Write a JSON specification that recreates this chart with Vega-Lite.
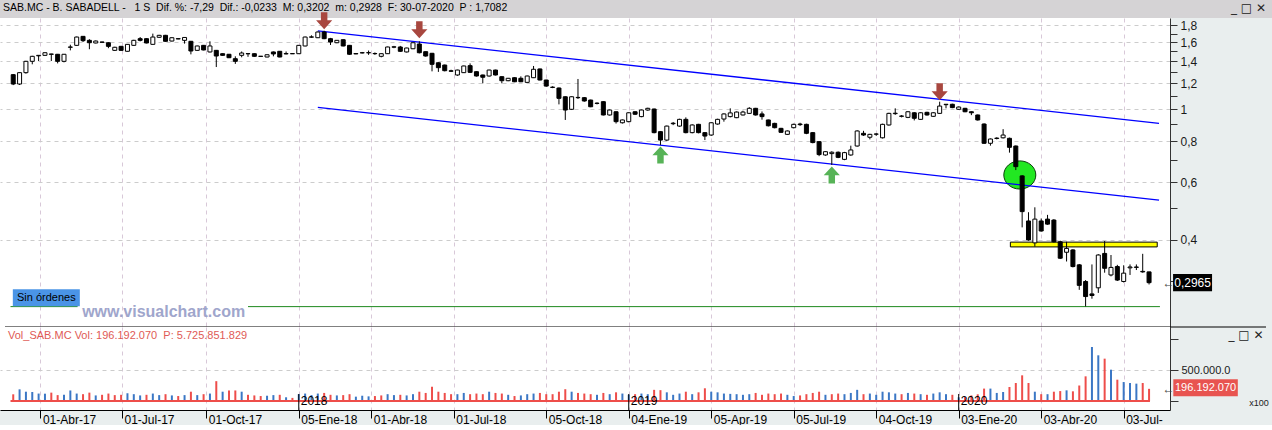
{
  "$schema": "https://vega.github.io/schema/vega-lite/v6.json",
  "background": "#e9eeee",
  "padding": 0,
  "spacing": 0,
  "bounds": "flush",
  "config": {"font": "Liberation Sans", "view": {"stroke": null}, "concat": {"spacing": 0}},
  "resolve": {"scale": {"x": "independent", "y": "independent"}},
  "datasets": {
    "bars": [
      {"d":"2017-02-24","o":1.275,"h":1.28,"l":1.185,"c":1.194,"v":108},
      {"d":"2017-03-03","o":1.194,"h":1.295,"l":1.186,"c":1.293,"v":188},
      {"d":"2017-03-10","o":1.293,"h":1.405,"l":1.284,"c":1.4,"v":150},
      {"d":"2017-03-17","o":1.4,"h":1.455,"l":1.371,"c":1.45,"v":145},
      {"d":"2017-03-24","o":1.455,"h":1.462,"l":1.403,"c":1.46,"v":120},
      {"d":"2017-03-31","o":1.46,"h":1.49,"l":1.455,"c":1.487,"v":118},
      {"d":"2017-04-07","o":1.47,"h":1.476,"l":1.403,"c":1.474,"v":135},
      {"d":"2017-04-14","o":1.471,"h":1.474,"l":1.38,"c":1.4,"v":95},
      {"d":"2017-04-21","o":1.4,"h":1.474,"l":1.39,"c":1.471,"v":100},
      {"d":"2017-04-28","o":1.545,"h":1.573,"l":1.512,"c":1.548,"v":170},
      {"d":"2017-05-05","o":1.566,"h":1.665,"l":1.56,"c":1.66,"v":120},
      {"d":"2017-05-12","o":1.668,"h":1.672,"l":1.603,"c":1.618,"v":110},
      {"d":"2017-05-19","o":1.622,"h":1.635,"l":1.524,"c":1.595,"v":135},
      {"d":"2017-05-26","o":1.592,"h":1.62,"l":1.588,"c":1.614,"v":90},
      {"d":"2017-06-02","o":1.603,"h":1.606,"l":1.597,"c":1.6,"v":100},
      {"d":"2017-06-09","o":1.595,"h":1.6,"l":1.535,"c":1.555,"v":120},
      {"d":"2017-06-16","o":1.512,"h":1.55,"l":1.505,"c":1.545,"v":95},
      {"d":"2017-06-23","o":1.555,"h":1.56,"l":1.508,"c":1.512,"v":100},
      {"d":"2017-06-30","o":1.502,"h":1.58,"l":1.5,"c":1.577,"v":125},
      {"d":"2017-07-07","o":1.566,"h":1.628,"l":1.56,"c":1.622,"v":110},
      {"d":"2017-07-14","o":1.641,"h":1.66,"l":1.61,"c":1.622,"v":90},
      {"d":"2017-07-21","o":1.641,"h":1.645,"l":1.588,"c":1.592,"v":100},
      {"d":"2017-07-28","o":1.577,"h":1.7,"l":1.575,"c":1.66,"v":120},
      {"d":"2017-08-04","o":1.657,"h":1.685,"l":1.652,"c":1.68,"v":95},
      {"d":"2017-08-11","o":1.68,"h":1.685,"l":1.607,"c":1.611,"v":110},
      {"d":"2017-08-18","o":1.614,"h":1.656,"l":1.61,"c":1.652,"v":90},
      {"d":"2017-08-25","o":1.641,"h":1.644,"l":1.635,"c":1.638,"v":80},
      {"d":"2017-09-01","o":1.622,"h":1.658,"l":1.585,"c":1.655,"v":95},
      {"d":"2017-09-08","o":1.611,"h":1.615,"l":1.47,"c":1.505,"v":150},
      {"d":"2017-09-15","o":1.512,"h":1.562,"l":1.508,"c":1.559,"v":95},
      {"d":"2017-09-22","o":1.566,"h":1.57,"l":1.512,"c":1.516,"v":110},
      {"d":"2017-09-29","o":1.495,"h":1.611,"l":1.49,"c":1.559,"v":120},
      {"d":"2017-10-06","o":1.512,"h":1.516,"l":1.345,"c":1.453,"v":320},
      {"d":"2017-10-13","o":1.477,"h":1.48,"l":1.456,"c":1.46,"v":150},
      {"d":"2017-10-20","o":1.471,"h":1.474,"l":1.432,"c":1.436,"v":170},
      {"d":"2017-10-27","o":1.426,"h":1.45,"l":1.375,"c":1.4,"v":170},
      {"d":"2017-11-03","o":1.46,"h":1.5,"l":1.44,"c":1.484,"v":150},
      {"d":"2017-11-10","o":1.476,"h":1.48,"l":1.445,"c":1.478,"v":100},
      {"d":"2017-11-17","o":1.477,"h":1.48,"l":1.445,"c":1.45,"v":90},
      {"d":"2017-11-24","o":1.451,"h":1.452,"l":1.447,"c":1.449,"v":80},
      {"d":"2017-12-01","o":1.443,"h":1.47,"l":1.44,"c":1.466,"v":85},
      {"d":"2017-12-08","o":1.495,"h":1.5,"l":1.45,"c":1.474,"v":95},
      {"d":"2017-12-15","o":1.502,"h":1.505,"l":1.44,"c":1.443,"v":100},
      {"d":"2017-12-22","o":1.475,"h":1.5,"l":1.47,"c":1.478,"v":60},
      {"d":"2017-12-29","o":1.478,"h":1.48,"l":1.474,"c":1.476,"v":50},
      {"d":"2018-01-05","o":1.477,"h":1.57,"l":1.475,"c":1.566,"v":110},
      {"d":"2018-01-12","o":1.559,"h":1.665,"l":1.555,"c":1.66,"v":120},
      {"d":"2018-01-19","o":1.658,"h":1.68,"l":1.65,"c":1.662,"v":95},
      {"d":"2018-01-26","o":1.652,"h":1.725,"l":1.648,"c":1.7195,"v":120},
      {"d":"2018-02-02","o":1.7195,"h":1.735,"l":1.635,"c":1.641,"v":130},
      {"d":"2018-02-09","o":1.641,"h":1.65,"l":1.57,"c":1.603,"v":100},
      {"d":"2018-02-16","o":1.595,"h":1.625,"l":1.59,"c":1.622,"v":90},
      {"d":"2018-02-23","o":1.629,"h":1.633,"l":1.555,"c":1.559,"v":95},
      {"d":"2018-03-02","o":1.566,"h":1.57,"l":1.466,"c":1.471,"v":110},
      {"d":"2018-03-09","o":1.478,"h":1.48,"l":1.472,"c":1.475,"v":70},
      {"d":"2018-03-16","o":1.487,"h":1.495,"l":1.48,"c":1.485,"v":85},
      {"d":"2018-03-23","o":1.486,"h":1.51,"l":1.465,"c":1.488,"v":75},
      {"d":"2018-03-30","o":1.477,"h":1.49,"l":1.465,"c":1.479,"v":80},
      {"d":"2018-04-06","o":1.45,"h":1.48,"l":1.44,"c":1.477,"v":90},
      {"d":"2018-04-13","o":1.477,"h":1.552,"l":1.474,"c":1.548,"v":110},
      {"d":"2018-04-20","o":1.546,"h":1.56,"l":1.535,"c":1.55,"v":95},
      {"d":"2018-04-27","o":1.548,"h":1.56,"l":1.495,"c":1.502,"v":100},
      {"d":"2018-05-04","o":1.495,"h":1.54,"l":1.49,"c":1.537,"v":90},
      {"d":"2018-05-11","o":1.529,"h":1.6,"l":1.525,"c":1.595,"v":110},
      {"d":"2018-05-18","o":1.581,"h":1.611,"l":1.48,"c":1.487,"v":150},
      {"d":"2018-05-25","o":1.498,"h":1.5,"l":1.447,"c":1.453,"v":130},
      {"d":"2018-06-01","o":1.481,"h":1.485,"l":1.305,"c":1.371,"v":230},
      {"d":"2018-06-08","o":1.386,"h":1.39,"l":1.3,"c":1.339,"v":150},
      {"d":"2018-06-15","o":1.364,"h":1.368,"l":1.305,"c":1.311,"v":130},
      {"d":"2018-06-22","o":1.31,"h":1.32,"l":1.3,"c":1.306,"v":110},
      {"d":"2018-06-29","o":1.272,"h":1.32,"l":1.265,"c":1.317,"v":110},
      {"d":"2018-07-06","o":1.293,"h":1.358,"l":1.29,"c":1.355,"v":130},
      {"d":"2018-07-13","o":1.358,"h":1.38,"l":1.29,"c":1.296,"v":110},
      {"d":"2018-07-20","o":1.302,"h":1.305,"l":1.258,"c":1.263,"v":120},
      {"d":"2018-07-27","o":1.272,"h":1.275,"l":1.2,"c":1.252,"v":110},
      {"d":"2018-08-03","o":1.263,"h":1.32,"l":1.258,"c":1.317,"v":150},
      {"d":"2018-08-10","o":1.317,"h":1.32,"l":1.268,"c":1.272,"v":130},
      {"d":"2018-08-17","o":1.257,"h":1.26,"l":1.2,"c":1.222,"v":120},
      {"d":"2018-08-24","o":1.222,"h":1.246,"l":1.218,"c":1.243,"v":100},
      {"d":"2018-08-31","o":1.248,"h":1.252,"l":1.21,"c":1.213,"v":80},
      {"d":"2018-09-07","o":1.243,"h":1.26,"l":1.21,"c":1.213,"v":90},
      {"d":"2018-09-14","o":1.208,"h":1.266,"l":1.205,"c":1.263,"v":110},
      {"d":"2018-09-21","o":1.248,"h":1.355,"l":1.245,"c":1.324,"v":120},
      {"d":"2018-09-28","o":1.327,"h":1.33,"l":1.225,"c":1.228,"v":130},
      {"d":"2018-10-05","o":1.228,"h":1.23,"l":1.172,"c":1.177,"v":110},
      {"d":"2018-10-12","o":1.168,"h":1.175,"l":1.16,"c":1.166,"v":110},
      {"d":"2018-10-19","o":1.161,"h":1.165,"l":1.035,"c":1.08,"v":150},
      {"d":"2018-10-26","o":1.092,"h":1.095,"l":0.928,"c":0.995,"v":190},
      {"d":"2018-11-02","o":1.0,"h":1.095,"l":0.995,"c":1.092,"v":150},
      {"d":"2018-11-09","o":1.087,"h":1.237,"l":1.075,"c":1.085,"v":130},
      {"d":"2018-11-16","o":1.085,"h":1.09,"l":1.055,"c":1.06,"v":120},
      {"d":"2018-11-23","o":1.067,"h":1.07,"l":1.015,"c":1.018,"v":110},
      {"d":"2018-11-30","o":1.044,"h":1.05,"l":1.035,"c":1.042,"v":100},
      {"d":"2018-12-07","o":1.055,"h":1.058,"l":0.958,"c":0.961,"v":130},
      {"d":"2018-12-14","o":0.961,"h":0.998,"l":0.957,"c":0.995,"v":110},
      {"d":"2018-12-21","o":0.983,"h":0.986,"l":0.905,"c":0.917,"v":140},
      {"d":"2018-12-28","o":0.91,"h":0.931,"l":0.905,"c":0.928,"v":120},
      {"d":"2019-01-04","o":0.917,"h":0.979,"l":0.913,"c":0.976,"v":100},
      {"d":"2019-01-11","o":0.983,"h":0.986,"l":0.962,"c":0.966,"v":110},
      {"d":"2019-01-18","o":0.95,"h":0.998,"l":0.946,"c":0.995,"v":120},
      {"d":"2019-01-25","o":0.995,"h":1.011,"l":0.99,"c":1.007,"v":110},
      {"d":"2019-02-01","o":1.002,"h":1.005,"l":0.845,"c":0.849,"v":180},
      {"d":"2019-02-08","o":0.855,"h":0.858,"l":0.779,"c":0.806,"v":175},
      {"d":"2019-02-15","o":0.806,"h":0.892,"l":0.8,"c":0.889,"v":140},
      {"d":"2019-02-22","o":0.904,"h":0.915,"l":0.895,"c":0.907,"v":100},
      {"d":"2019-03-01","o":0.889,"h":0.936,"l":0.885,"c":0.932,"v":120},
      {"d":"2019-03-08","o":0.932,"h":0.945,"l":0.845,"c":0.849,"v":150},
      {"d":"2019-03-15","o":0.849,"h":0.9,"l":0.845,"c":0.896,"v":110},
      {"d":"2019-03-22","o":0.9,"h":0.903,"l":0.845,"c":0.849,"v":140},
      {"d":"2019-03-29","o":0.849,"h":0.852,"l":0.806,"c":0.829,"v":205},
      {"d":"2019-04-05","o":0.835,"h":0.913,"l":0.83,"c":0.91,"v":150},
      {"d":"2019-04-12","o":0.902,"h":0.936,"l":0.898,"c":0.932,"v":140},
      {"d":"2019-04-19","o":0.934,"h":0.972,"l":0.917,"c":0.968,"v":120},
      {"d":"2019-04-26","o":0.95,"h":1.007,"l":0.945,"c":0.975,"v":115},
      {"d":"2019-05-03","o":0.943,"h":0.985,"l":0.94,"c":0.981,"v":110},
      {"d":"2019-05-10","o":0.961,"h":0.99,"l":0.958,"c":0.981,"v":100},
      {"d":"2019-05-17","o":0.972,"h":1.015,"l":0.968,"c":1.007,"v":110},
      {"d":"2019-05-24","o":1.007,"h":1.01,"l":0.957,"c":0.961,"v":130},
      {"d":"2019-05-31","o":0.968,"h":0.985,"l":0.93,"c":0.95,"v":100},
      {"d":"2019-06-07","o":0.928,"h":0.93,"l":0.887,"c":0.891,"v":120},
      {"d":"2019-06-14","o":0.906,"h":0.91,"l":0.875,"c":0.879,"v":110},
      {"d":"2019-06-21","o":0.875,"h":0.878,"l":0.848,"c":0.851,"v":120},
      {"d":"2019-06-28","o":0.839,"h":0.862,"l":0.835,"c":0.859,"v":100},
      {"d":"2019-07-05","o":0.879,"h":0.904,"l":0.875,"c":0.9,"v":80},
      {"d":"2019-07-12","o":0.902,"h":0.91,"l":0.89,"c":0.898,"v":90},
      {"d":"2019-07-19","o":0.9,"h":0.904,"l":0.84,"c":0.845,"v":110},
      {"d":"2019-07-26","o":0.849,"h":0.852,"l":0.788,"c":0.792,"v":130},
      {"d":"2019-08-02","o":0.797,"h":0.8,"l":0.72,"c":0.728,"v":150},
      {"d":"2019-08-09","o":0.726,"h":0.746,"l":0.722,"c":0.743,"v":100},
      {"d":"2019-08-16","o":0.733,"h":0.745,"l":0.677,"c":0.74,"v":110},
      {"d":"2019-08-23","o":0.74,"h":0.744,"l":0.71,"c":0.714,"v":120},
      {"d":"2019-08-30","o":0.704,"h":0.742,"l":0.7,"c":0.738,"v":110},
      {"d":"2019-09-06","o":0.726,"h":0.775,"l":0.722,"c":0.752,"v":130},
      {"d":"2019-09-13","o":0.773,"h":0.863,"l":0.77,"c":0.859,"v":180},
      {"d":"2019-09-20","o":0.845,"h":0.86,"l":0.83,"c":0.835,"v":110},
      {"d":"2019-09-27","o":0.822,"h":0.842,"l":0.81,"c":0.839,"v":120},
      {"d":"2019-10-04","o":0.84,"h":0.845,"l":0.83,"c":0.841,"v":100},
      {"d":"2019-10-11","o":0.819,"h":0.904,"l":0.815,"c":0.9,"v":150},
      {"d":"2019-10-18","o":0.896,"h":0.976,"l":0.892,"c":0.972,"v":140},
      {"d":"2019-10-25","o":0.97,"h":1.007,"l":0.962,"c":0.973,"v":120},
      {"d":"2019-11-01","o":0.952,"h":0.96,"l":0.945,"c":0.954,"v":110},
      {"d":"2019-11-08","o":0.945,"h":0.987,"l":0.94,"c":0.983,"v":130},
      {"d":"2019-11-15","o":0.976,"h":0.98,"l":0.925,"c":0.939,"v":120},
      {"d":"2019-11-22","o":0.932,"h":0.98,"l":0.928,"c":0.976,"v":110},
      {"d":"2019-11-29","o":0.979,"h":0.983,"l":0.957,"c":0.961,"v":100},
      {"d":"2019-12-06","o":0.952,"h":0.98,"l":0.948,"c":0.976,"v":120},
      {"d":"2019-12-13","o":0.972,"h":1.055,"l":0.968,"c":1.023,"v":140},
      {"d":"2019-12-20","o":1.033,"h":1.038,"l":1.007,"c":1.036,"v":110},
      {"d":"2019-12-27","o":1.036,"h":1.04,"l":1.008,"c":1.012,"v":100},
      {"d":"2020-01-03","o":1.0,"h":1.02,"l":0.996,"c":1.016,"v":60},
      {"d":"2020-01-10","o":1.007,"h":1.01,"l":0.98,"c":0.983,"v":65},
      {"d":"2020-01-17","o":0.983,"h":0.985,"l":0.96,"c":0.976,"v":90},
      {"d":"2020-01-24","o":0.961,"h":0.964,"l":0.924,"c":0.928,"v":108},
      {"d":"2020-01-31","o":0.902,"h":0.906,"l":0.785,"c":0.788,"v":200},
      {"d":"2020-02-07","o":0.788,"h":0.815,"l":0.775,"c":0.812,"v":200},
      {"d":"2020-02-14","o":0.815,"h":0.822,"l":0.81,"c":0.817,"v":130},
      {"d":"2020-02-21","o":0.819,"h":0.87,"l":0.815,"c":0.835,"v":145},
      {"d":"2020-02-28","o":0.816,"h":0.82,"l":0.738,"c":0.766,"v":226},
      {"d":"2020-03-06","o":0.773,"h":0.776,"l":0.653,"c":0.669,"v":290},
      {"d":"2020-03-13","o":0.627,"h":0.63,"l":0.437,"c":0.488,"v":414},
      {"d":"2020-03-20","o":0.457,"h":0.486,"l":0.398,"c":0.4,"v":290},
      {"d":"2020-03-27","o":0.392,"h":0.503,"l":0.382,"c":0.463,"v":150},
      {"d":"2020-04-03","o":0.457,"h":0.465,"l":0.424,"c":0.426,"v":110},
      {"d":"2020-04-10","o":0.463,"h":0.477,"l":0.445,"c":0.447,"v":110},
      {"d":"2020-04-17","o":0.46,"h":0.463,"l":0.393,"c":0.395,"v":150},
      {"d":"2020-04-24","o":0.395,"h":0.398,"l":0.35,"c":0.352,"v":160},
      {"d":"2020-05-01","o":0.367,"h":0.395,"l":0.344,"c":0.377,"v":172},
      {"d":"2020-05-08","o":0.373,"h":0.375,"l":0.33,"c":0.332,"v":156},
      {"d":"2020-05-15","o":0.336,"h":0.338,"l":0.282,"c":0.291,"v":250},
      {"d":"2020-05-22","o":0.299,"h":0.302,"l":0.251,"c":0.269,"v":398},
      {"d":"2020-05-29","o":0.274,"h":0.337,"l":0.265,"c":0.271,"v":871},
      {"d":"2020-06-05","o":0.286,"h":0.362,"l":0.276,"c":0.36,"v":737},
      {"d":"2020-06-12","o":0.364,"h":0.397,"l":0.318,"c":0.328,"v":683},
      {"d":"2020-06-19","o":0.313,"h":0.36,"l":0.31,"c":0.33,"v":505},
      {"d":"2020-06-26","o":0.332,"h":0.336,"l":0.3,"c":0.302,"v":344},
      {"d":"2020-07-03","o":0.299,"h":0.335,"l":0.297,"c":0.317,"v":306},
      {"d":"2020-07-10","o":0.329,"h":0.337,"l":0.313,"c":0.331,"v":290},
      {"d":"2020-07-17","o":0.33,"h":0.337,"l":0.324,"c":0.331,"v":280},
      {"d":"2020-07-24","o":0.321,"h":0.363,"l":0.318,"c":0.3198,"v":290},
      {"d":"2020-07-31","o":0.3198,"h":0.3202,"l":0.2928,"c":0.2965,"v":196.19}
    ]
  },
  "vconcat": [
    {
      "width": 1272,
      "height": 18,
      "view": {"fill": "#d5d3d5", "stroke": null},
      "encoding": {
        "x": {"type": "temporal", "axis": null,
          "scale": {"type": "utc", "domain": [{"year": 2017, "month": 2, "date": 14, "hours": 22, "utc": true}, {"year": 2020, "month": 12, "date": 7, "utc": true}]}}
      },
      "layer": [
        {
          "data": {"values": [{"t": "SAB.MC - B. SABADELL - \u00a0 1 S \u00a0Dif. %: -7,29 \u00a0Dif.: -0,0233 \u00a0M: 0,3202 \u00a0m: 0,2928 \u00a0F: 30-07-2020 \u00a0P : 1,7082"}]},
          "mark": {"type": "text", "align": "left", "baseline": "middle", "dx": 3, "dy": -1, "fontSize": 10.5, "color": "#000000"},
          "encoding": {
            "x": {"datum": {"year": 2017, "month": 2, "date": 14, "hours": 22, "utc": true}, "type": "temporal", "axis": null},
            "text": {"field": "t"}
          }
        },
        {
          "data": {"values": [{"t": "_ □ ✕"}]},
          "mark": {"type": "text", "align": "right", "baseline": "middle", "dx": -6, "dy": -1, "fontSize": 12, "font": "DejaVu Sans", "color": "#222222"},
          "encoding": {
            "x": {"datum": {"year": 2020, "month": 12, "date": 7, "utc": true}, "type": "temporal", "axis": null},
            "text": {"field": "t"}
          }
        }
      ]
    },
    {
      "width": 1170,
      "height": 309,
      "view": {"fill": "#ffffff", "stroke": null},
      "layer": [
        {
          "data": {"values": [{"d": "2020-03-10T10:00:00Z", "p": 0.631}]},
          "mark": {"type": "point", "shape": "M-1,0A1,0.88 0 1,0 1,0A1,0.88 0 1,0 -1,0Z", "size": 1024, "filled": true, "fill": "#22e822", "stroke": "#0b3d0b", "strokeWidth": 1, "opacity": 1},
          "encoding": {
            "x": {"field": "d", "type": "temporal",
              "scale": {"type": "utc", "domain": [{"year": 2017, "month": 2, "date": 14, "hours": 22, "utc": true}, {"year": 2020, "month": 8, "date": 17, "hours": 14, "utc": true}]},
              "axis": {"orient": "bottom", "title": null, "labels": false, "ticks": false, "domain": true, "domainColor": "#000000", "domainWidth": 1, "grid": true, "gridColor": "#d8c8d8", "gridDash": [4, 4],
                "values": [{"year":2017,"month":3,"date":26,"utc":true},{"year":2017,"month":6,"date":24,"utc":true},{"year":2017,"month":9,"date":25,"utc":true},{"year":2018,"month":1,"date":5,"utc":true},{"year":2018,"month":3,"date":26,"utc":true},{"year":2018,"month":6,"date":25,"utc":true},{"year":2018,"month":10,"date":5,"utc":true},{"year":2019,"month":1,"date":4,"utc":true},{"year":2019,"month":4,"date":5,"utc":true},{"year":2019,"month":7,"date":5,"utc":true},{"year":2019,"month":10,"date":4,"utc":true},{"year":2020,"month":1,"date":3,"utc":true},{"year":2020,"month":4,"date":3,"utc":true},{"year":2020,"month":7,"date":3,"utc":true}]}},
            "y": {"field": "p", "type": "quantitative",
              "scale": {"type": "log", "domain": [0.2173, 1.897], "nice": false},
              "axis": {"orient": "right", "title": null, "values": [0.3,0.4,0.5,0.6,0.7,0.8,0.9,1,1.1,1.2,1.3,1.4,1.5,1.6,1.7,1.8],
                "labelExpr": "(round(datum.value*10)%2==0) ? replace(format(datum.value,'.1~f'),'.',',') : ''",
                "labelOverlap": false, "grid": true, "gridColor": "#cccccc", "gridDash": [4, 4],
                "gridOpacity": {"condition": {"test": "round(datum.value*10)%2==0", "value": 1}, "value": 0},
                "tickSize": 7, "tickColor": "#333333", "domainColor": "#333333", "labelFontSize": 12, "labelColor": "#1a1a1a", "labelPadding": 3, "labelFont": "Liberation Sans"}}
          }
        },
        {
          "data": {"values": [{"d1": "2017-02-21", "d2": "2017-05-06", "p": 0.2507}, {"d1": "2017-11-10", "d2": "2020-08-12", "p": 0.2507}]},
          "mark": {"type": "rule", "color": "#1f8a1f", "strokeWidth": 1},
          "encoding": {"x": {"field": "d1", "type": "temporal", "title": null}, "x2": {"field": "d2"}, "y": {"field": "p", "type": "quantitative", "title": null}}
        },
        {
          "data": {"values": [{"d1": "2017-02-14T22:00:00Z", "d2": "2020-12-07", "p": 0.2173}]},
          "mark": {"type": "rule", "color": "#000000", "strokeWidth": 1},
          "encoding": {"x": {"field": "d1", "type": "temporal", "title": null}, "x2": {"field": "d2"}, "y": {"field": "p", "type": "quantitative", "title": null}}
        },
        {
          "data": {"values": [{"d": "2018-01-26", "p": 1.732, "k": "a"}, {"d": "2020-08-11", "p": 0.906, "k": "a"}, {"d": "2018-01-26", "p": 1.013, "k": "b"}, {"d": "2020-08-11", "p": 0.529, "k": "b"}]},
          "mark": {"type": "line", "color": "#0000ff", "strokeWidth": 1.3},
          "encoding": {"x": {"field": "d", "type": "temporal", "title": null}, "y": {"field": "p", "type": "quantitative", "title": null}, "detail": {"field": "k"}}
        },
        {
          "data": {"values": [{"d1": "2020-02-29", "d2": "2020-08-09", "p1": 0.394, "p2": 0.381}]},
          "mark": {"type": "rect", "fill": "#ffff00", "stroke": "#000000", "strokeWidth": 1},
          "encoding": {"x": {"field": "d1", "type": "temporal", "title": null}, "x2": {"field": "d2"}, "y": {"field": "p1", "type": "quantitative", "title": null}, "y2": {"field": "p2"}}
        },
        {
          "data": {"name": "bars"},
          "mark": {"type": "rule", "color": "#000000", "strokeWidth": 1},
          "encoding": {"x": {"field": "d", "type": "temporal", "title": null}, "y": {"field": "l", "type": "quantitative", "title": null}, "y2": {"field": "h"}}
        },
        {
          "data": {"name": "bars"},
          "mark": {"type": "bar", "size": 4, "stroke": "#000000", "strokeWidth": 1},
          "encoding": {"x": {"field": "d", "type": "temporal", "title": null}, "y": {"field": "o", "type": "quantitative", "title": null}, "y2": {"field": "c"},
            "fill": {"condition": {"test": "datum.c > datum.o", "value": "#ffffff"}, "value": "#000000"}}
        },
        {
          "data": {"values": [{"d": "2018-02-02", "p": 1.735}, {"d": "2018-05-18", "p": 1.63}, {"d": "2019-12-13", "p": 1.055}]},
          "mark": {"type": "point", "shape": "M-0.38,-1L0.38,-1L0.38,-0.05L0.95,-0.05L0,1L-0.95,-0.05L-0.38,-0.05Z", "size": 289, "filled": true, "color": "#a8473f", "opacity": 1, "yOffset": -10},
          "encoding": {"x": {"field": "d", "type": "temporal", "title": null}, "y": {"field": "p", "type": "quantitative", "title": null}}
        },
        {
          "data": {"values": [{"d": "2019-02-08", "p": 0.779}, {"d": "2019-08-16", "p": 0.677}]},
          "mark": {"type": "point", "shape": "M-0.38,1L0.38,1L0.38,0.05L0.95,0.05L0,-1L-0.95,0.05L-0.38,0.05Z", "size": 289, "filled": true, "color": "#57b357", "opacity": 1, "yOffset": 10},
          "encoding": {"x": {"field": "d", "type": "temporal", "title": null}, "y": {"field": "p", "type": "quantitative", "title": null}}
        },
        {
          "data": {"values": [{"d": "2017-04-01T12:00:00Z", "p": 0.2669}]},
          "mark": {"type": "point", "shape": "M-1,-0.254H1V0.254H-1Z", "size": 4489, "filled": true, "color": "#4a94e6", "opacity": 1},
          "encoding": {"x": {"field": "d", "type": "temporal", "title": null}, "y": {"field": "p", "type": "quantitative", "title": null}}
        },
        {
          "data": {"values": [{"d": "2017-04-01T12:00:00Z", "p": 0.2669, "t": "Sin órdenes"}]},
          "mark": {"type": "text", "fontSize": 11, "color": "#000000", "align": "center", "baseline": "middle"},
          "encoding": {"x": {"field": "d", "type": "temporal", "title": null}, "y": {"field": "p", "type": "quantitative", "title": null}, "text": {"field": "t"}}
        },
        {
          "data": {"values": [{"d": "2017-08-08T22:00:00Z", "p": 0.2331, "t": "www.visualchart.com"}]},
          "mark": {"type": "text", "fontSize": 16, "fontWeight": "bold", "color": "#9fa6cc", "align": "center", "baseline": "alphabetic"},
          "encoding": {"x": {"field": "d", "type": "temporal", "title": null}, "y": {"field": "p", "type": "quantitative", "title": null}, "text": {"field": "t"}}
        },
        {
          "data": {"values": [{"d": "2020-07-31", "p": 0.2965}]},
          "mark": {"type": "point", "shape": "M-1,-0.44H1V0.44H-1Z", "size": 1520, "filled": true, "color": "#000000", "opacity": 1, "xOffset": 43.5},
          "encoding": {"x": {"field": "d", "type": "temporal", "title": null}, "y": {"field": "p", "type": "quantitative", "title": null}}
        },
        {
          "data": {"values": [{"d": "2020-07-31", "p": 0.2965, "t": "0,2965"}]},
          "mark": {"type": "text", "fontSize": 12, "color": "#ffffff", "align": "center", "baseline": "middle", "xOffset": 43.5},
          "encoding": {"x": {"field": "d", "type": "temporal", "title": null}, "y": {"field": "p", "type": "quantitative", "title": null}, "text": {"field": "t"}}
        },
        {
          "data": {"values": [{"d": "2020-07-31", "p": 0.2965, "t": "←"}]},
          "mark": {"type": "text", "fontSize": 12, "color": "#444444", "align": "center", "baseline": "middle", "xOffset": 19.5},
          "encoding": {"x": {"field": "d", "type": "temporal", "title": null}, "y": {"field": "p", "type": "quantitative", "title": null}, "text": {"field": "t"}}
        }
      ]
    },
    {
      "width": 1170,
      "height": 83,
      "view": {"fill": "#ffffff", "stroke": null},
      "layer": [
        {
          "data": {"name": "bars"},
          "transform": [{"window": [{"op": "lag", "field": "c", "as": "pc"}], "sort": [{"field": "d", "order": "ascending"}]}],
          "mark": {"type": "bar", "size": 2},
          "encoding": {
            "x": {"field": "d", "type": "temporal",
              "scale": {"type": "utc", "domain": [{"year": 2017, "month": 2, "date": 14, "hours": 22, "utc": true}, {"year": 2020, "month": 8, "date": 17, "hours": 14, "utc": true}]},
              "axis": {"orient": "bottom", "title": null,
                "values": [{"year":2017,"month":3,"date":26,"utc":true},{"year":2017,"month":6,"date":24,"utc":true},{"year":2017,"month":9,"date":25,"utc":true},{"year":2018,"month":1,"date":5,"utc":true},{"year":2018,"month":3,"date":26,"utc":true},{"year":2018,"month":6,"date":25,"utc":true},{"year":2018,"month":10,"date":5,"utc":true},{"year":2019,"month":1,"date":4,"utc":true},{"year":2019,"month":4,"date":5,"utc":true},{"year":2019,"month":7,"date":5,"utc":true},{"year":2019,"month":10,"date":4,"utc":true},{"year":2020,"month":1,"date":3,"utc":true},{"year":2020,"month":4,"date":3,"utc":true},{"year":2020,"month":7,"date":3,"utc":true}],
                "labelExpr": "['01-Abr-17','01-Jul-17','01-Oct-17','05-Ene-18','01-Abr-18','01-Jul-18','05-Oct-18','04-Ene-19','05-Apr-19','05-Jul-19','04-Oct-19','03-Ene-20','03-Abr-20','03-Jul-'][indexof(['2017-03-26','2017-06-24','2017-09-25','2018-01-05','2018-03-26','2018-06-25','2018-10-05','2019-01-04','2019-04-05','2019-07-05','2019-10-04','2020-01-03','2020-04-03','2020-07-03'], utcFormat(datum.value, '%Y-%m-%d'))]",
                "labelAlign": "left", "labelOffset": 2, "labelPadding": -4, "labelFontSize": 12, "labelColor": "#000000", "labelFont": "Liberation Sans", "labelOverlap": false, "labelFlush": false,
                "tickSize": 8, "tickColor": "#000000", "domainColor": "#000000", "grid": true, "gridColor": "#d8c8d8", "gridDash": [4, 4]}},
            "y": {"field": "v", "type": "quantitative",
              "scale": {"domain": [-145.2, 1193.6], "nice": false, "zero": false},
              "axis": {"orient": "right", "title": null, "values": [0, 500, 1000], "labelExpr": "datum.value==500 ? '500.000.0' : ''", "labelOverlap": false,
                "grid": true, "gridColor": "#cccccc", "gridDash": [4, 4], "gridOpacity": {"condition": {"test": "datum.value==500", "value": 1}, "value": 0},
                "tickSize": 8, "tickColor": "#333333", "domainColor": "#333333", "labelFontSize": 11, "labelColor": "#1a1a1a", "labelPadding": 3, "labelFont": "Liberation Sans"}},
            "y2": {"datum": 0},
            "color": {"condition": {"test": "datum.pc != null ? datum.c >= datum.pc : datum.c >= datum.o", "value": "#3b77c5"}, "value": "#ee4d4a"}
          }
        },
        {
          "data": {"values": [{"d1": "2017-02-21", "d2": "2020-08-01", "v": 0}]},
          "mark": {"type": "rule", "color": "#ee4d4a", "strokeWidth": 2},
          "encoding": {"x": {"field": "d1", "type": "temporal", "title": null}, "x2": {"field": "d2"}, "y": {"field": "v", "type": "quantitative", "title": null}}
        },
        {
          "data": {"values": [{"d": "2018-01-05"}, {"d": "2019-01-04"}, {"d": "2020-01-03"}]},
          "mark": {"type": "rule", "color": "#000000", "strokeWidth": 1},
          "encoding": {"x": {"field": "d", "type": "temporal", "title": null}, "y": {"datum": -145.2, "type": "quantitative", "title": null}, "y2": {"datum": 113}}
        },
        {
          "data": {"values": [{"d": "2018-01-05", "t": "2018"}, {"d": "2019-01-04", "t": "2019"}, {"d": "2020-01-03", "t": "2020"}]},
          "mark": {"type": "text", "fontSize": 12, "color": "#000000", "align": "left", "baseline": "middle", "dx": 2},
          "encoding": {"x": {"field": "d", "type": "temporal", "title": null}, "y": {"datum": 0, "type": "quantitative", "title": null}, "text": {"field": "t"}}
        },
        {
          "data": {"values": [{"d": "2020-07-31", "v": 196.19}]},
          "mark": {"type": "point", "shape": "M-1,-0.264H1V0.264H-1Z", "size": 4160, "filled": true, "color": "#e85450", "opacity": 1, "xOffset": 56.5, "yOffset": -1},
          "encoding": {"x": {"field": "d", "type": "temporal", "title": null}, "y": {"field": "v", "type": "quantitative", "title": null}}
        },
        {
          "data": {"values": [{"d": "2020-07-31", "v": 196.19, "t": "196.192.070"}]},
          "mark": {"type": "text", "fontSize": 11, "color": "#ffffff", "align": "center", "baseline": "middle", "xOffset": 56.5, "yOffset": -1},
          "encoding": {"x": {"field": "d", "type": "temporal", "title": null}, "y": {"field": "v", "type": "quantitative", "title": null}, "text": {"field": "t"}}
        },
        {
          "data": {"values": [{"d": "2020-07-31", "v": 196.19, "t": "←"}]},
          "mark": {"type": "text", "fontSize": 12, "color": "#444444", "align": "center", "baseline": "middle", "xOffset": 19.5},
          "encoding": {"x": {"field": "d", "type": "temporal", "title": null}, "y": {"field": "v", "type": "quantitative", "title": null}, "text": {"field": "t"}}
        },
        {
          "data": {"values": [{"t": "Vol_SAB.MC Vol: 196.192.070 \u00a0P: 5.725.851.829"}]},
          "mark": {"type": "text", "fontSize": 11, "color": "#e05a55", "align": "left", "baseline": "alphabetic", "dx": 3},
          "encoding": {"x": {"datum": {"year": 2017, "month": 2, "date": 14, "hours": 22, "utc": true}, "type": "temporal", "title": null}, "y": {"datum": 1000, "type": "quantitative", "title": null}, "text": {"field": "t"}}
        },
        {
          "data": {"values": [{"t": "_ □ ✕"}]},
          "mark": {"type": "text", "fontSize": 12, "font": "DejaVu Sans", "color": "#222222", "align": "center", "baseline": "middle", "xOffset": 81},
          "encoding": {"x": {"datum": {"year": 2020, "month": 8, "date": 17, "hours": 14, "utc": true}, "type": "temporal", "title": null}, "y": {"datum": 1060, "type": "quantitative", "title": null}, "text": {"field": "t"}}
        },
        {
          "data": {"values": [{"t": "x100"}]},
          "mark": {"type": "text", "fontSize": 9, "color": "#222222", "align": "center", "baseline": "middle", "xOffset": 94},
          "encoding": {"x": {"datum": {"year": 2020, "month": 8, "date": 17, "hours": 14, "utc": true}, "type": "temporal", "title": null}, "y": {"datum": -30, "type": "quantitative", "title": null}, "text": {"field": "t"}}
        }
      ]
    }
  ]
}
